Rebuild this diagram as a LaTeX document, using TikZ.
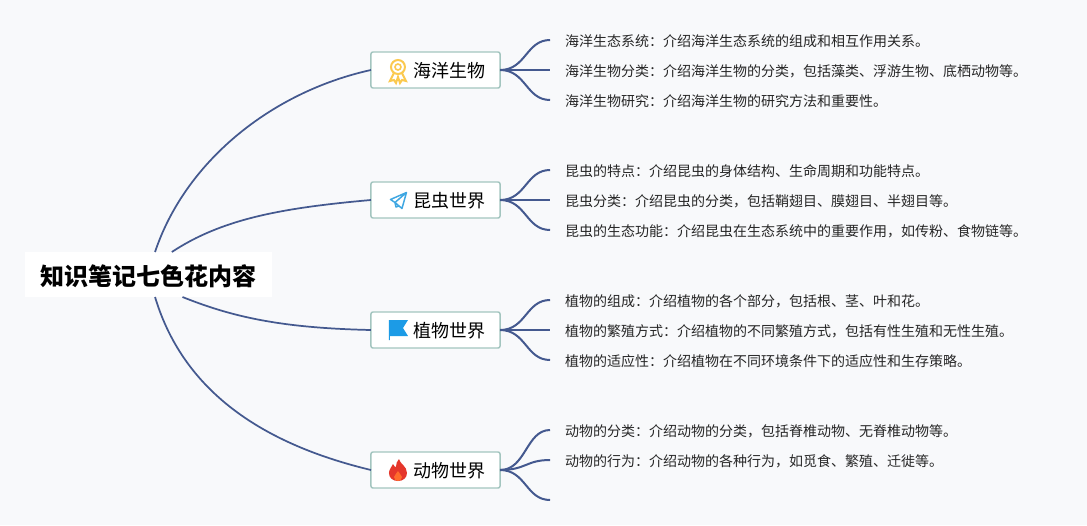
\documentclass[tikz,border=0pt]{standalone}
\usepackage{fontspec}
\setmainfont{Noto Sans CJK SC}
\usetikzlibrary{positioning}
\definecolor{pagebg}{HTML}{F8F9FB}
\definecolor{branchblue}{HTML}{44598F}
\definecolor{topicline}{HTML}{A3C5BF}
\definecolor{medalgold}{HTML}{FBC94F}
\definecolor{planeblue}{HTML}{3FA7E2}
\definecolor{flagblue}{HTML}{1C9BE6}
\definecolor{firered}{HTML}{E5362B}
\definecolor{fireorange}{HTML}{FF6B2C}
\tikzset{
  medal/.pic={
    \draw[medalgold, line width=1.5pt, fill=white] (-4,3) -- (-8,11) -- (-4,10) -- (-2,13) -- (0,7) -- (2,13) -- (4,10) -- (8,11) -- (4,3);
    \draw[medalgold, line width=1.5pt, fill=white] (0,-3) circle (7);
    \draw[medalgold, line width=1.2pt] (0,-3) circle (3);
  },
  plane/.pic={
    \draw[planeblue, line width=1.1pt, line join=round] (8.5,-7.5) -- (-7.5,-.5) -- (-3,2.5) -- (8.5,-7.5) -- (4,8.5) -- (-3,2.5) -- (-2,7) -- (1,6);
  },
  flagicon/.pic={
    \fill[flagblue] (-9,-10) -- (10,-10) -- (5,-2) -- (10,6) -- (-8,6) -- (-8,10) -- (-9,10) -- cycle;
  },
  fire/.pic={
    \fill[firered] (1,-11) .. controls (2,-6) and (9,-4) .. (9,3) .. controls (9,8) and (5,11) .. (0,11)
      .. controls (-5,11) and (-9,8) .. (-9,3) .. controls (-9,-1) and (-6,-3) .. (-5,-6) .. controls (-4,-4) and (-3,-3) .. (-2,-3) .. controls (-2,-6) and (-1,-9) .. (1,-11) -- cycle;
    \fill[fireorange] (0,1) .. controls (1,4) and (4,5) .. (4,7) .. controls (4,9) and (2,11) .. (0,11) .. controls (-2,11) and (-4,9) .. (-4,7) .. controls (-4,5) and (-1,4) .. (0,1) -- cycle;
  }
}
\begin{document}
\begin{tikzpicture}[x=.75pt, y=-.75pt, node distance=37.5pt,
      root/.style={fill=white, font=\fontsize{18}{22}\selectfont\bfseries, minimum width=185.25pt, minimum height=33.75pt, text height=18pt, text depth=2pt, inner sep=0pt, outer sep=0pt},
      topic/.style={draw=topicline, fill=white, line width=1.1pt, rounded corners=1.5pt, font=\fontsize{13.5}{16}\selectfont, minimum height=27pt, text width=75pt, align=right, text height=13.4pt, text depth=1.5pt, inner xsep=10.9pt, inner ysep=0pt, outer sep=0pt},
      leaf/.style={font=\fontsize{10.5}{12}\selectfont, text=black!85, inner xsep=11.25pt, inner ysep=0pt, outer sep=0pt, text height=10.7pt, text depth=1.2pt},
      trunk/.style={branchblue, line width=1.3pt},
      twig/.style={branchblue, line width=1.5pt}]
    \useasboundingbox[fill=pagebg] (0,0) rectangle (1087,525);
    % centre and the four topics
    \node[root] (root) at (148.5,274.5) {知识笔记七色花内容};
    \node[topic] (sea) at (435.5,70) {海洋生物};
    \node[topic, below=70.5pt of sea] (insect) {昆虫世界};
    \node[topic, below=70.5pt of insect] (plant) {植物世界};
    \node[topic, below=78pt of plant] (animal) {动物世界};
    \pic at ([xshift=20.25pt]sea.west) {medal};
    \pic at ([xshift=20.25pt]insect.west) {plane};
    \pic at ([xshift=20.25pt]plant.west) {flagicon};
    \pic at ([xshift=20.25pt]animal.west) {fire};
    % texts
    \node[leaf, right=of sea, yshift=22.5pt] (sea1) {海洋生态系统：介绍海洋生态系统的组成和相互作用关系。};
    \node[leaf, right=of sea] (sea2) {海洋生物分类：介绍海洋生物的分类，包括藻类、浮游生物、底栖动物等。};
    \node[leaf, right=of sea, yshift=-22.5pt] (sea3) {海洋生物研究：介绍海洋生物的研究方法和重要性。};
    \node[leaf, right=of insect, yshift=22.5pt] (insect1) {昆虫的特点：介绍昆虫的身体结构、生命周期和功能特点。};
    \node[leaf, right=of insect] (insect2) {昆虫分类：介绍昆虫的分类，包括鞘翅目、膜翅目、半翅目等。};
    \node[leaf, right=of insect, yshift=-22.5pt] (insect3) {昆虫的生态功能：介绍昆虫在生态系统中的重要作用，如传粉、食物链等。};
    \node[leaf, right=of plant, yshift=22.5pt] (plant1) {植物的组成：介绍植物的各个部分，包括根、茎、叶和花。};
    \node[leaf, right=of plant] (plant2) {植物的繁殖方式：介绍植物的不同繁殖方式，包括有性生殖和无性生殖。};
    \node[leaf, right=of plant, yshift=-22.5pt] (plant3) {植物的适应性：介绍植物在不同环境条件下的适应性和生存策略。};
    \node[leaf, right=of animal, yshift=30pt] (animal1) {动物的分类：介绍动物的分类，包括脊椎动物、无脊椎动物等。};
    \node[leaf, right=of animal, yshift=7.5pt] (animal2) {动物的行为：介绍动物的各种行为，如觅食、繁殖、迁徙等。};
    \coordinate[right=of animal, yshift=-22.5pt] (animal3);
    % connectors
    \coordinate (rootA) at ([xshift=4.9pt]root.north);
    \coordinate (rootB) at ([xshift=17.5pt]root.north);
    \coordinate (rootC) at ([xshift=25.5pt]root.south);
    \coordinate (rootD) at ([xshift=4.9pt]root.south);
    \draw[trunk] (rootA) .. controls +(30,-90) and +(-100,22) .. (sea.west);
    \draw[trunk] (rootB) .. controls +(50,-33) and +(-90,8) .. (insect.west);
    \draw[trunk] (rootC) .. controls +(50,20) and +(-90,-2) .. (plant.west);
    \draw[trunk] (rootD) .. controls +(30,100) and +(-100,-24) .. (animal.west);
    \foreach \t in {sea,insect,plant}
      \foreach \n in {1,2,3}
        \draw[twig] (\t.east) .. controls +(26,0) and +(-24,0) .. (\t\n.west);
    \draw[twig] (animal.east) .. controls +(26,0) and +(-24,0) .. (animal1.west);
    \draw[twig] (animal.east) .. controls +(26,0) and +(-24,0) .. (animal2.west);
    \draw[twig] (animal.east) .. controls +(26,0) and +(-24,0) .. (animal3);
\end{tikzpicture}
\end{document}
